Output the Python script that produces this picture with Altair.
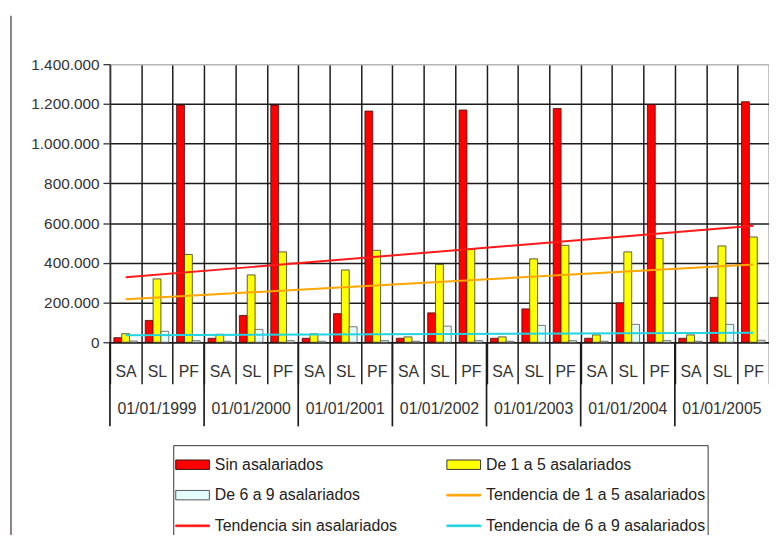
import altair as alt
import pandas as pd

# ---------------- data ----------------
years = ["1999", "2000", "2001", "2002", "2003", "2004", "2005"]
subs = ["SA", "SL", "PF"]
year_labels = ["01/01/1999", "01/01/2000", "01/01/2001", "01/01/2002",
               "01/01/2003", "01/01/2004", "01/01/2005"]

bar_series = ["Sin asalariados", "De 1 a 5 asalariados", "De 6 a 9 asalariados"]
trend_series = ["Tendencia de 1 a 5 asalariados", "Tendencia sin asalariados",
                "Tendencia de 6 a 9 asalariados"]

# values in category order (1999 SA, SL, PF, 2000 SA, ...)
sin_asalariados = [23000, 110000, 1194000, 20000, 135000, 1194000, 20000, 144000, 1164000,
                   20000, 148000, 1169000, 20000, 168000, 1177000, 20000, 198000, 1197000,
                   20000, 226000, 1211000]
de_1_a_5 = [43000, 319000, 442000, 40000, 339000, 455000, 42000, 364000, 463000,
            27000, 392000, 467000, 27000, 420000, 488000, 37000, 455000, 522000,
            37000, 485000, 530000]
de_6_a_9 = [6000, 55000, 8000, 5000, 65000, 8000, 5000, 78000, 8000,
            5000, 81000, 8000, 5000, 85000, 8000, 5000, 90000, 8000,
            5000, 90000, 10000]

# trend lines: value at first and last category
tend_1_a_5 = [216000, 392000]
tend_sin = [327000, 586000]
tend_6_a_9 = [35000, 48000]

y_ticks = [0, 200000, 400000, 600000, 800000, 1000000, 1200000, 1400000]

# ---------------- tables ----------------
cats = [f"{y}|{s}" for y in years for s in subs]

bar_rows = []
for name, vals in zip(bar_series, [sin_asalariados, de_1_a_5, de_6_a_9]):
    for c, v in zip(cats, vals):
        bar_rows.append({"cat": c, "serie": name, "valor": v})
bars_df = pd.DataFrame(bar_rows)

trend_rows = []
for name, vals in zip(trend_series, [tend_1_a_5, tend_sin, tend_6_a_9]):
    trend_rows.append({"cat": cats[0], "serie": name, "valor": vals[0]})
    trend_rows.append({"cat": cats[-1], "serie": name, "valor": vals[1]})
trend_df = pd.DataFrame(trend_rows)

year_df = pd.DataFrame({"mid": [f"{y}|SL" for y in years],
                        "start": [f"{y}|SA" for y in years],
                        "label": year_labels})

# legend order (legend grid is filled column by column)
legend_order = ["Sin asalariados", "De 6 a 9 asalariados", "Tendencia sin asalariados",
                "De 1 a 5 asalariados", "Tendencia de 1 a 5 asalariados",
                "Tendencia de 6 a 9 asalariados"]
legend_df = pd.DataFrame({"serie": legend_order})

# ---------------- styles ----------------
FONT = "Liberation Sans"
GRID = "#1c1c1c"
color_of = {
    "Sin asalariados": ("#ff0000", "#3a1010"),
    "De 1 a 5 asalariados": ("#ffff00", "#333333"),
    "De 6 a 9 asalariados": ("#e4fcfc", "#555555"),
    "Tendencia de 1 a 5 asalariados": ("#ffa500", "#ffa500"),
    "Tendencia sin asalariados": ("#ff1a1a", "#ff1a1a"),
    "Tendencia de 6 a 9 asalariados": ("#22d3e0", "#22d3e0"),
}
bar_path = "M-1,-0.28H1V0.28H-1Z"
line_path = "M-1,-0.05H1V0.05H-1Z"

fill_scale = alt.Scale(domain=legend_order, range=[color_of[s][0] for s in legend_order])
stroke_scale = alt.Scale(domain=legend_order, range=[color_of[s][1] for s in legend_order])
shape_scale = alt.Scale(domain=legend_order,
                        range=[bar_path if s in bar_series else line_path for s in legend_order])

leg = alt.Legend(
    title=None, orient="none", legendX=64, legendY=385, columns=2,
    columnPadding=47, rowPadding=5, symbolSize=1156, symbolStrokeWidth=1,
    symbolOpacity=1, labelFont=FONT, labelFontSize=16, labelColor="#222222",
    labelOffset=5, labelLimit=400, strokeColor="#333333", fillColor="white",
    padding=2, cornerRadius=0,
)

x_enc = alt.X(
    "cat:N", sort=cats,
    scale=alt.Scale(domain=cats, paddingInner=0, paddingOuter=0),
    axis=alt.Axis(
        title=None, labelAngle=0, labelExpr="split(datum.value, '|')[1]",
        tickBand="extent", tickSize=42, tickColor=GRID, tickWidth=1.5,
        grid=True, gridColor=GRID, gridWidth=1.5, domainColor=GRID, domainWidth=1.5,
        labelPadding=-20, labelFontSize=16, labelFont=FONT, labelColor="#333333",
    ),
)
y_enc = alt.Y(
    "valor:Q",
    scale=alt.Scale(domain=[0, 1400000], nice=False),
    axis=alt.Axis(
        title=None, values=y_ticks,
        labelExpr="replace(format(datum.value, ','), regexp(',', 'g'), '.')",
        tickSize=7, tickColor="#333333", tickWidth=1.3,
        domainColor="#333333", domainWidth=1.5,
        gridColor={"condition": {"test": "datum.value >= 1400000", "value": "#b5b5b5"},
                   "value": GRID},
        gridWidth=1.5,
        labelFontSize=15.5, labelFont=FONT, labelColor="#333333", labelPadding=4,
    ),
)

bars = alt.Chart(bars_df).mark_bar(strokeWidth=0.8).encode(
    x=x_enc,
    xOffset=alt.XOffset("serie:N", sort=bar_series,
                        scale=alt.Scale(domain=bar_series, paddingInner=0, paddingOuter=0.5)),
    y=y_enc,
    fill=alt.Fill("serie:N", scale=fill_scale, legend=leg),
    stroke=alt.Stroke("serie:N", scale=stroke_scale, legend=leg),
)

lines = alt.Chart(trend_df).mark_line(strokeWidth=2).encode(
    x=alt.X("cat:N", sort=cats),
    y=alt.Y("valor:Q"),
    stroke=alt.Stroke("serie:N", scale=stroke_scale, legend=leg),
    detail="serie:N",
)

year_rules = alt.Chart(year_df).mark_rule(color=GRID, strokeWidth=1.7).encode(
    x=alt.X("start:N", sort=cats, bandPosition=0),
    y=alt.value(281), y2=alt.value(366),
)

year_text = alt.Chart(year_df).mark_text(
    font=FONT, fontSize=16, color="#333333", baseline="middle"
).encode(
    x=alt.X("mid:N", sort=cats),
    y=alt.value(348),
    text="label:N",
)

outer_line = alt.Chart(legend_df.head(1)).mark_rule(color="#8c8484", strokeWidth=2).encode(
    x=alt.value(-100), y=alt.value(-49), y2=alt.value(480),
)

legend_layer = alt.Chart(legend_df).mark_point(filled=True, size=0).encode(
    fill=alt.Fill("serie:N", scale=fill_scale, legend=leg),
    stroke=alt.Stroke("serie:N", scale=stroke_scale, legend=leg),
    shape=alt.Shape("serie:N", scale=shape_scale, legend=leg),
)

chart = alt.layer(
    bars, lines, year_rules, year_text, outer_line, legend_layer
).properties(
    width=666, height=281,
    padding={"left": 103, "top": 54, "right": 0, "bottom": 192},
    autosize="none",
    background="white",
).configure_view(stroke=None)

chart.save("out.html", embed_options={"renderer": "svg", "actions": False})
